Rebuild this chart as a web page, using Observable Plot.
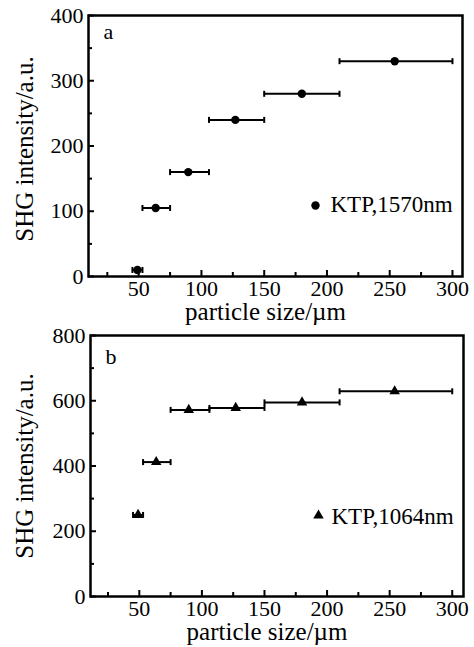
<!DOCTYPE html>
<html>
<head>
<meta charset="utf-8">
<script src="https://cdn.jsdelivr.net/npm/d3@7"></script>
<script src="https://cdn.jsdelivr.net/npm/@observablehq/plot@0.6"></script>
<style>
  html, body { margin: 0; padding: 0; background: #fff; }
  #chart { width: 474px; }
  #chart svg { overflow: visible; background: transparent; display: block; }
</style>
</head>
<body>
<div id="chart"></div>
<script>
// ---- data ----
const sizeLow  = [45, 53, 75, 106, 150, 210];
const sizeHigh = [53, 75, 106, 150, 210, 300];
const sizeMid  = [49, 63.5, 89.5, 127, 180, 254];
const shg1570  = [10, 105, 160, 240, 280, 330];
const shg1064  = [250, 412, 572, 578, 595, 629];
const xMajorTicks = [50, 100, 150, 200, 250, 300];
const xMinorTicks = [25, 75, 125, 175, 225, 275];
const yTicksA = [0, 100, 200, 300, 400];
const yMinorA = [50, 150, 250, 350];
const yTicksB = [0, 200, 400, 600, 800];
const yMinorB = [100, 300, 500, 700];
const panelLabels = ["a", "b"];
const legendLabels = ["KTP,1570nm", "KTP,1064nm"];
const xTitle = "particle size/\u00b5m";
const yTitle = "SHG intensity/a.u.";

const FONT = "Liberation Serif, Times New Roman, serif";

// vertical line symbol used for error-bar caps
const capSymbol = {
  draw(context, size) {
    const h = Math.sqrt(size / Math.PI);
    context.moveTo(0, -h);
    context.lineTo(0, h);
  }
};

function panel(cfg) {
  const rows = sizeMid.map((m, i) => ({mid: m, lo: sizeLow[i], hi: sizeHigh[i], v: cfg.values[i]}));
  const innerH = cfg.height - cfg.marginTop - cfg.marginBottom;
  const innerW = 474 - cfg.marginLeft - cfg.marginRight;
  const txt = {fill: "#000", lineAnchor: "middle"};
  return Plot.plot({
    width: 474,
    height: cfg.height,
    marginTop: cfg.marginTop,
    marginBottom: cfg.marginBottom,
    marginLeft: cfg.marginLeft,
    marginRight: cfg.marginRight,
    style: {fontFamily: FONT, fontSize: "22px", color: "#000", background: "transparent", overflow: "visible"},
    x: {domain: cfg.xDomain},
    y: {domain: cfg.yDomain},
    marks: [
      Plot.axisX(xMajorTicks, {tickSize: 0, tickPadding: 4, fontSize: 22, label: null, fill: "#000"}),
      Plot.axisY(cfg.yTicks, {tickSize: 0, tickPadding: 5, fontSize: 22, label: null, fill: "#000"}),
      // inward ticks
      Plot.tickX(xMajorTicks, {x: d => d, insetTop: innerH - 6, stroke: "#000", strokeWidth: 2}),
      Plot.tickX(xMinorTicks, {x: d => d, insetTop: innerH - 4, stroke: "#000", strokeWidth: 2}),
      Plot.tickY(cfg.yTicks, {y: d => d, insetRight: innerW - 6, stroke: "#000", strokeWidth: 2}),
      Plot.tickY(cfg.yMinor, {y: d => d, insetRight: innerW - 4, stroke: "#000", strokeWidth: 2}),
      // error bars
      Plot.ruleY(rows, {x1: "lo", x2: "hi", y: "v", stroke: "#000", strokeWidth: 2}),
      Plot.dot(rows, {x: "lo", y: "v", symbol: capSymbol, r: 3, stroke: "#000", strokeWidth: 2, fill: "none"}),
      Plot.dot(rows, {x: "hi", y: "v", symbol: capSymbol, r: 3, stroke: "#000", strokeWidth: 2, fill: "none"}),
      // data points
      Plot.dot(rows, {x: "mid", y: "v", symbol: cfg.symbol, r: cfg.r, fill: "#000", stroke: "none"}),
      // legend
      Plot.dot([cfg.legend], {frameAnchor: "top-left", dx: cfg.legDot[0], dy: cfg.legDot[1], symbol: cfg.symbol, r: cfg.r, fill: "#000"}),
      Plot.text([cfg.legend], {...txt, frameAnchor: "top-left", dx: cfg.legText[0], dy: cfg.legText[1], text: d => d, textAnchor: "start", fontSize: 23}),
      // panel letter
      Plot.text([cfg.letter], {...txt, frameAnchor: "top-left", dx: 15, dy: cfg.letterDy, text: d => d, textAnchor: "start", fontSize: 22}),
      // axis titles
      Plot.text([xTitle], {...txt, frameAnchor: "bottom", dx: -10, dy: cfg.xTitleDy, text: d => d, textAnchor: "middle", fontSize: 25}),
      Plot.text([yTitle], {...txt, frameAnchor: "left", dx: cfg.yTitleDx, dy: cfg.yTitleDy, rotate: -90, text: d => d, textAnchor: "middle", fontSize: 25}),
      Plot.frame({stroke: "#000", strokeWidth: 2.5})
    ]
  });
}

const chart = document.getElementById("chart");
chart.append(panel({
  height: 320, marginTop: 15, marginBottom: 44, marginLeft: 88, marginRight: 12,
  xDomain: [10, 308], yDomain: [0, 400], yTicks: yTicksA, yMinor: yMinorA,
  values: shg1570, symbol: "circle", r: 4.2,
  legend: legendLabels[0], legDot: [227, 190], legText: [242, 189],
  letter: panelLabels[0], letterDy: 16, xTitleDy: 35, yTitleDx: -64, yTitleDy: 3
}));
chart.append(panel({
  height: 327, marginTop: 15, marginBottom: 51, marginLeft: 90, marginRight: 11,
  xDomain: [11, 309], yDomain: [0, 800], yTicks: yTicksB, yMinor: yMinorB,
  values: shg1064, symbol: "triangle", r: 3.9,
  legend: legendLabels[1], legDot: [228, 180], legText: [241, 181],
  letter: panelLabels[1], letterDy: 21, xTitleDy: 35, yTitleDx: -66, yTitleDy: 0
}));
</script>
</body>
</html>
